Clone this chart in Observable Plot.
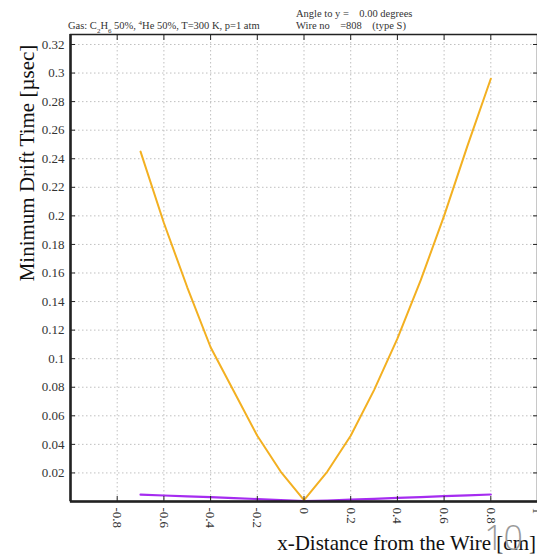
<!DOCTYPE html>
<html>
<head>
<meta charset="utf-8">
<script src="https://cdn.jsdelivr.net/npm/d3@7"></script>
<script src="https://cdn.jsdelivr.net/npm/@observablehq/plot@0.6"></script>
<style>
  html, body { margin: 0; padding: 0; background: #fff; }
  #chart { width: 537px; height: 555px; overflow: hidden; }
</style>
</head>
<body>
<div id="chart"></div>
<script>
const xTicks = [-0.8, -0.6, -0.4, -0.2, 0, 0.2, 0.4, 0.6, 0.8, 1];
const yTicks = [0.02, 0.04, 0.06, 0.08, 0.1, 0.12, 0.14, 0.16, 0.18, 0.2, 0.22, 0.24, 0.26, 0.28, 0.3, 0.32];
const distX = [-0.7, -0.6, -0.5, -0.4, -0.3, -0.2, -0.1, 0, 0.1, 0.2, 0.3, 0.4, 0.5, 0.6, 0.7, 0.8];
const driftOrange = [0.245, 0.195, 0.150, 0.108, 0.077, 0.046, 0.021, 0.001, 0.021, 0.046, 0.078, 0.114, 0.155, 0.200, 0.249, 0.296];
const driftPurple = [0.0048, 0.0042, 0.0036, 0.0030, 0.0024, 0.0017, 0.0009, 0.0002, 0.0007, 0.0013, 0.0019, 0.0025, 0.0031, 0.0037, 0.0043, 0.0049];

const orangeData = distX.map((x, i) => ({x, y: driftOrange[i]}));
const purpleData = distX.map((x, i) => ({x, y: driftPurple[i]}));

const serif = "'Liberation Serif', 'DejaVu Serif', serif";

const plot = Plot.plot({
  width: 537,
  height: 555,
  marginLeft: 70,
  marginRight: 0,
  marginTop: 34,
  marginBottom: 54,
  style: {fontFamily: serif, fontSize: "13px", color: "#222", background: "#fff"},
  x: {domain: [-1, 1]},
  y: {domain: [0, 0.327]},
  marks: [
    Plot.gridX(xTicks.filter(d => d < 1), {stroke: "#b0b0b0", strokeOpacity: 0.8, strokeDasharray: "1.5,2.5"}),
    Plot.gridY(yTicks, {stroke: "#b0b0b0", strokeOpacity: 0.8, strokeDasharray: "1.5,2.5"}),
    Plot.line(purpleData, {x: "x", y: "y", stroke: "#a52cf0", strokeWidth: 2.2}),
    Plot.line(orangeData, {x: "x", y: "y", stroke: "#f3b021", strokeWidth: 2}),
    Plot.frame({stroke: "#222", strokeWidth: 1.5}),
    Plot.ruleX([-1], {stroke: "#222", strokeWidth: 2.5}),
    Plot.ruleY([0], {stroke: "#222", strokeWidth: 2.5}),
    // inside tick marks
    Plot.axisX(xTicks, {anchor: "bottom", tickSize: -5, tickFormat: () => "", label: null, stroke: "#222"}),
    Plot.axisX(xTicks, {anchor: "top", tickSize: -5, tickFormat: () => "", label: null, stroke: "#222"}),
    Plot.axisY(yTicks, {anchor: "left", tickSize: -5, tickFormat: () => "", label: null, stroke: "#222"}),
    Plot.axisY(yTicks, {anchor: "right", tickSize: -5, tickFormat: () => "", label: null, stroke: "#222"}),
    // labels
    Plot.axisX(xTicks, {anchor: "bottom", tickSize: 0, tickPadding: 6, tickRotate: 90, label: null, fontSize: 13, fontFamily: serif, fill: "#333", tickFormat: d => String(d)}),
    Plot.axisY(yTicks, {anchor: "left", tickSize: 0, tickPadding: 6, label: null, fontSize: 13, fontFamily: serif, fill: "#333", tickFormat: d => String(d)})
  ]
});

document.getElementById("chart").appendChild(plot);

const svg = d3.select(plot);

// header texts
const gas = svg.append("text")
  .attr("x", 68).attr("y", 29)
  .attr("text-anchor", "start")
  .attr("font-family", serif).attr("font-size", 10.5).attr("fill", "#333");
gas.append("tspan").text("Gas: C");
gas.append("tspan").attr("baseline-shift", "sub").attr("font-size", 7).text("2");
gas.append("tspan").text("H");
gas.append("tspan").attr("baseline-shift", "sub").attr("font-size", 7).text("6");
gas.append("tspan").text(" 50%, ");
gas.append("tspan").attr("baseline-shift", "super").attr("font-size", 7).text("4");
gas.append("tspan").text("He 50%, T=300 K, p=1 atm");

svg.append("text")
  .attr("x", 296).attr("y", 17)
  .attr("text-anchor", "start")
  .attr("font-family", serif).attr("font-size", 10.5).attr("fill", "#333")
  .attr("xml:space", "preserve").style("white-space", "pre")
  .text("Angle to y =    0.00 degrees");

svg.append("text")
  .attr("x", 296).attr("y", 29)
  .attr("text-anchor", "start")
  .attr("font-family", serif).attr("font-size", 10.5).attr("fill", "#333")
  .attr("xml:space", "preserve").style("white-space", "pre")
  .text("Wire no    =808    (type S)");

// axis titles
svg.append("text")
  .attr("transform", "translate(34,163) rotate(-90)")
  .attr("text-anchor", "middle")
  .attr("font-family", serif).attr("font-size", 21).attr("fill", "#111")
  .text("Minimum Drift Time [µsec]");

svg.append("text")
  .attr("x", 536).attr("y", 550)
  .attr("text-anchor", "end")
  .attr("font-family", serif).attr("font-size", 21).attr("fill", "#111")
  .text("x-Distance from the Wire [cm]");

// page number overlay
svg.append("text")
  .attr("x", 523).attr("y", 550)
  .attr("text-anchor", "end")
  .attr("font-family", "'Open Sans', 'Noto Sans', sans-serif").attr("font-size", 34)
  .attr("font-weight", 300)
  .attr("fill", "#9a9a9a")
  .text("10");
</script>
</body>
</html>
